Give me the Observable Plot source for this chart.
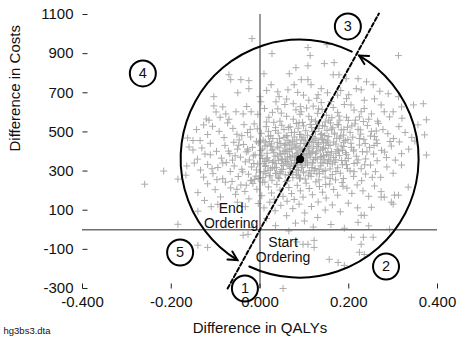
<!DOCTYPE html>
<html><head><meta charset="utf-8">
<script src="https://cdn.jsdelivr.net/npm/d3@7"></script>
<script src="https://cdn.jsdelivr.net/npm/@observablehq/plot@0.6"></script>
<style>html,body{margin:0;padding:0;background:#fff}svg{display:block}</style>
</head><body><div id="chart"></div>
<script>
// ---- data (QALY difference, cost difference) ----
const upperPoints = [[-0.018,977],[0.151,946],[0.108,931],[0.027,900],[0.113,890],[0.312,890],[0.145,849],[0.167,854],[0.108,838],[0.081,828],[0.009,797],[0.066,797],[-0.07,792],[0.165,792],[0.178,792],[0.194,772],[0.221,772],[-0.066,767],[-0.043,767],[0.093,767],[0.108,767],[-0.025,762],[0.24,756],[0.077,741],[0.115,741],[0.255,741],[0.025,741],[0.138,721],[0.04,705],[-0.025,721],[0.063,715],[0.217,721],[0.228,715],[0.043,680],[0.131,690],[0.289,695],[0.312,680],[-0.104,680],[0,680],[0.258,669],[0.002,654],[0.036,654],[0.152,700],[0.175,688],[0.195,670],[0.085,702],[0.11,662],[0.16,655],[0.2,690],[0.235,662],[-0.05,700],[0.015,712],[0.06,668],[0.128,672],[0.098,688],[0.182,712],[0.27,708],[-0.104,633],[-0.084,628],[-0.077,592],[-0.054,603],[-0.038,592],[-0.02,603],[0.075,644],[0.081,613],[0.093,603],[0.04,618],[0.273,638],[0.319,628],[0.346,638],[0.368,644],[0.28,603],[0.3,603],[0.292,577],[0.375,562],[0.251,592],[0.228,603],[0.205,638],[0.19,640],[0.165,625],[0.14,615],[0.12,632],[0.105,622],[0.06,580],[0.02,575],[-0.005,590],[-0.07,565],[-0.09,575],[-0.115,560],[0.11,580],[0.13,595],[0.15,585],[0.175,600],[0.195,575],[0.215,560],[0.245,565],[0.265,555],[0.32,570],[0.045,555],[0.075,565],[0.09,590],[0.01,620],[-0.03,630],[0.18,560],[0.235,620],[0.155,560],[0.125,555],[0.028,600],[0.056,640],[0.138,650],[0.212,612],[0.132,618],[0.091,629],[0.048,596],[0.178,581],[0.233,553],[0.015,551],[-0.121,566],[-0.099,602]];

const midPoints = [[-0.127,536],[-0.163,469],[-0.143,512],[-0.118,487],[-0.107,529],[-0.092,503],[-0.081,471],[-0.073,546],[-0.061,518],[-0.052,488],[-0.047,459],[-0.036,537],[-0.028,497],[-0.021,474],[-0.013,541],[-0.006,516],[0.003,493],[0.007,458],[0.014,527],[0.019,503],[0.024,481],[0.031,549],[0.035,522],[0.041,494],[0.044,466],[0.049,534],[0.054,512],[0.059,479],[0.063,457],[0.068,526],[0.071,497],[0.077,474],[0.082,543],[0.086,519],[0.089,487],[0.094,463],[0.098,531],[0.103,506],[0.107,483],[0.112,452],[0.116,523],[0.119,501],[0.124,468],[0.128,539],[0.133,517],[0.137,486],[0.141,461],[0.146,529],[0.151,508],[0.155,476],[0.159,546],[0.164,521],[0.168,494],[0.173,467],[0.177,536],[0.183,511],[0.188,484],[0.192,456],[0.197,524],[0.203,498],[0.209,473],[0.214,541],[0.221,513],[0.227,489],[0.234,462],[0.242,533],[0.251,503],[0.258,477],[0.267,544],[0.277,512],[0.288,491],[0.301,466],[0.313,527],[0.327,497],[0.342,472],[0.371,485],[0.356,536],[-0.151,456],[0.349,453],[0.262,459],[0.021,451],[0.096,549],[0.147,551],
[-0.131,418],[-0.124,387],[-0.16,423],[-0.151,408],[-0.112,442],[-0.098,401],[-0.087,366],[-0.079,431],[-0.068,389],[-0.059,447],[-0.051,412],[-0.044,371],[-0.037,436],[-0.031,398],[-0.024,357],[-0.017,421],[-0.011,383],[-0.004,444],[0.002,405],[0.006,364],[0.011,428],[0.016,391],[0.02,353],[0.026,439],[0.029,412],[0.034,376],[0.039,447],[0.043,419],[0.047,386],[0.051,359],[0.055,432],[0.058,401],[0.062,372],[0.067,445],[0.07,414],[0.073,381],[0.078,355],[0.081,428],[0.085,396],[0.087,367],[0.091,441],[0.095,409],[0.099,378],[0.102,352],[0.106,434],[0.109,403],[0.113,371],[0.117,446],[0.12,417],[0.125,389],[0.129,361],[0.132,437],[0.136,406],[0.139,374],[0.143,443],[0.147,415],[0.15,384],[0.154,358],[0.158,431],[0.161,399],[0.166,369],[0.171,438],[0.174,411],[0.179,379],[0.184,354],[0.189,426],[0.193,394],[0.199,365],[0.205,442],[0.211,408],[0.217,376],[0.224,433],[0.231,399],[0.238,362],[0.247,421],[0.256,387],[0.264,441],[0.274,406],[0.285,369],[0.296,428],[0.314,449],[0.319,389],[0.335,412],[0.375,382],[0.305,356],[-0.141,361],[0,450],[0.031,352],[0.066,399],[0.088,418],[0.115,392],[0.141,412],[0.004,381],[0.049,362],[0.077,438],[0.104,367],[0.128,425],[0.166,448],[0.186,405],[0.221,357],[-0.028,412],[-0.062,356],[0.012,449],[0.097,385],
[-0.165,326],[-0.167,279],[-0.127,269],[-0.217,300],[-0.185,259],[-0.148,341],[-0.134,305],[-0.118,334],[-0.106,287],[-0.095,318],[-0.084,261],[-0.076,343],[-0.067,298],[-0.058,326],[-0.049,272],[-0.041,309],[-0.033,347],[-0.026,284],[-0.019,321],[-0.012,258],[-0.005,336],[0.001,295],[0.007,267],[0.013,329],[0.018,303],[0.023,276],[0.028,344],[0.033,316],[0.038,289],[0.043,262],[0.048,338],[0.052,309],[0.057,281],[0.061,349],[0.066,322],[0.069,294],[0.074,266],[0.079,337],[0.083,307],[0.086,279],[0.091,346],[0.094,318],[0.098,291],[0.102,259],[0.107,331],[0.111,302],[0.115,273],[0.119,341],[0.124,313],[0.128,286],[0.133,255],[0.137,327],[0.142,298],[0.147,269],[0.152,339],[0.158,311],[0.163,282],[0.169,345],[0.175,317],[0.181,289],[0.188,262],[0.195,333],[0.203,301],[0.211,273],[0.219,342],[0.228,312],[0.238,285],[0.249,331],[0.26,297],[0.272,268],[0.286,321],[0.3,289],[0.319,331],[0.142,345],[0.062,251],[0.011,348],[-0.021,253],[0.091,264],[0.17,255],[0.047,297],[0.117,318],[0.085,333],[0.036,338],[-0.008,306]];

const corePoints = [[0.072,412],[0.058,438],[0.093,352],[0.121,446],[0.045,391],[0.108,428],[0.136,371],[0.083,459],[0.027,406],[0.154,433],[0.069,368],[0.112,389],[0.039,423],[0.146,357],[0.177,402],[0.061,481],[0.099,441],[0.125,503],[0.017,367],[0.188,447],[0.053,329],[0.087,303],[0.134,287],[0.024,311],[0.163,336],[0.109,279],[0.074,294],[0.041,268],[0.197,313],[0.121,358],[0.009,338],[0.158,262],[0.092,487],[0.138,468],[0.064,522],[0.182,479],[0.029,466],[0.113,538],[0.206,421],[0.224,466],[-0.015,378],[0.016,432],[0.052,402],[0.079,376],[0.101,412],[0.128,398],[0.143,379],[0.171,357],[0.195,384],[0.212,339],[0.057,347],[0.082,389],[0.118,343],[0.095,327],[0.068,313],[0.035,288],[-0.009,274],[0.212,297],[0.236,332],[0.264,353],[0.281,397],[0.293,451],[0.262,505],[-0.022,513],[-0.048,432],[-0.071,402],[-0.084,341],[-0.108,312],[-0.097,256],[-0.112,383],[-0.135,456],[0.229,251],[0.253,268]];

const densePoints = [[0.013,287],[0.071,341],[0.118,397],[0.152,455],[0.189,512],[0.224,577],[0.037,319],[0.086,372],[0.131,426],[0.168,489],[-0.004,262],[0.049,308],[0.095,366],[0.143,419],[0.179,468],[0.207,531],[0.021,276],[0.063,336],[0.104,389],[0.149,447],[-0.031,228],[0.009,297],[0.058,357],[0.092,403],[0.126,458],[0.161,514],[0.199,559],[-0.052,207],[-0.019,251],[0.028,318],[0.067,374],[0.111,424],[0.139,491],[0.174,538],[0.031,396],[0.076,327],[0.122,302],[0.158,378],[0.047,441],[0.014,362],[0.098,296],[0.137,341],[0.183,428],[0.064,279],[0.107,345],[0.042,355],[0.081,421],[0.119,477],[0.153,395],[0.027,253],[0.089,261],[0.133,309],[0.171,298],[0.056,389],[0.102,458],[0.006,412],[-0.014,339],[-0.039,296],[-0.063,247],[0.146,482],[0.078,498],[0.116,562],[0.054,472],[0.192,353],[0.211,402],[0.237,441],[0.198,462],[0.241,398],[0.257,431],[0.226,511],[0.249,479],[0.035,507],[0.019,478],[-0.008,452],[-0.041,481],[-0.027,402],[-0.056,378],[0.088,547],[0.162,573],[0.141,532],[0.073,452],[0.108,382],[0.066,433],[0.094,318],[0.125,368],[0.171,391],[0.045,288],[0.082,283],[0.012,323],[0.103,336],[0.147,304],[0.186,332],[0.061,409],[0.131,446],[0.024,427],[0.158,351],[0.115,289],[0.078,356],[0.039,377],[0.097,473]];

const lowerPoints = [[-0.26,233],[-0.14,190],[-0.118,235],[-0.101,205],[-0.089,168],[-0.078,243],[-0.066,214],[-0.055,181],[-0.043,229],[-0.034,196],[-0.025,158],[-0.016,237],[-0.007,207],[0.004,174],[0.011,244],[0.019,219],[0.026,188],[0.032,156],[0.038,232],[0.045,203],[0.052,171],[0.059,246],[0.065,216],[0.071,185],[0.077,155],[0.084,227],[0.091,199],[0.097,167],[0.104,238],[0.111,211],[0.118,179],[0.126,245],[0.134,221],[0.141,192],[0.149,162],[0.157,234],[0.166,206],[0.175,177],[0.185,241],[0.196,213],[0.207,186],[0.219,229],[0.232,199],[0.245,171],[0.258,224],[0.273,195],[0.273,167],[0.28,167],[0.303,177],[0.312,177],[0.334,218],[0.006,243],[0.148,231],[0.187,222],
[-0.14,95],[-0.11,118],[-0.125,150],[-0.095,130],[-0.051,141],[-0.033,118],[-0.004,134],[0.009,112],[0.022,141],[0.034,97],[0.047,125],[0.061,146],[0.074,108],[0.088,131],[0.101,86],[0.116,119],[0.131,142],[0.147,101],[0.163,127],[0.181,92],[0.199,136],[0.22,112],[0.251,115],[0.3,131],[0.296,141],[0.228,74],[0.235,74],[0.06,72],[0.13,63],[0.015,58],
[-0.185,28],[-0.038,-28],[-0.027,-23],[0.292,3],[0.221,38],[0.035,21],[0.08,34],[0.12,14],[0.16,27],[0.19,8],[0.065,-6],[0.245,20],[-0.015,12],[0.1,45],
[-0.14,-79],[-0.118,-90],[0.052,-300],[0.122,-54],[0.122,-90],[0.097,-74],[0.108,-74],[0.156,-151],[0.176,-167],[0.19,-182],[0.206,-38],[0.233,-38],[0.228,-74],[0.255,-38],[0.224,-115],[0.235,-126],[0.083,-62]];

const meanPoint = [0.0904, 361];             // mean QALY / cost difference
const icerLine = [[-0.073, -300], [0.268, 1105]];  // ray through origin and mean

const xDomain = [-0.4, 0.4];
const yDomain = [-300, 1100];
const xTicks = [-0.4, -0.2, 0, 0.2, 0.4];
const xTickLabels = ["-0.400", "-0.200", "0.000", "0.200", "0.400"];
const yTicks = [-300, -100, 100, 300, 500, 700, 900, 1100];
const yTickLabels = ["-300", "-100", "100", "300", "500", "700", "900", "1100"];

const quadrantLabels = ["1", "2", "3", "4", "5"];
const quadrantQ = [-0.034, 0.284, 0.198, -0.264, -0.18];
const quadrantC = [-300, -188, 1039, 799, -116];

const orderingNotes = ["End\nOrdering", "Start\nOrdering"];
const orderingQ = [-0.065, 0.052];
const orderingC = [73, -101];

const orderingArcs = [{from: 115, to: -60}, {from: -64, to: -238.5}]; // screen angles (deg) around the mean

// ---- symbols ----
const plusSymbol = {draw(ctx, size) { const h = Math.sqrt(size / Math.PI); ctx.moveTo(-h, 0); ctx.lineTo(h, 0); ctx.moveTo(0, -h); ctx.lineTo(0, h); }};
const tickRightSymbol = {draw(ctx, size) { const h = Math.sqrt(size / Math.PI); ctx.moveTo(0, 0); ctx.lineTo(h, 0); }};
const tickUpSymbol = {draw(ctx, size) { const h = Math.sqrt(size / Math.PI); ctx.moveTo(0, 0); ctx.lineTo(0, -h); }};

const allPoints = [...upperPoints, ...midPoints, ...corePoints, ...densePoints, ...lowerPoints];
const idx = quadrantLabels.map((d, i) => i);
const oidx = orderingNotes.map((d, i) => i);

const font = "'Liberation Sans', Arial, Helvetica, sans-serif";

const chart = Plot.plot({
  width: 459, height: 343,
  marginLeft: 82, marginRight: 22, marginTop: 14, marginBottom: 55,
  x: {domain: xDomain, axis: null},
  y: {domain: yDomain, axis: null},
  style: {fontFamily: font, background: "#fff", color: "#111", overflow: "visible"},
  marks: [
    Plot.dot(allPoints, {x: d => d[0], y: d => d[1], symbol: plusSymbol, r: 3.5, stroke: "#ababab", fill: "none", strokeWidth: 1}),
    Plot.ruleY([0], {stroke: "#6e6e6e", strokeWidth: 1.4}),
    Plot.ruleX([0], {stroke: "#6e6e6e", strokeWidth: 1.4}),
    Plot.line(icerLine, {x: d => d[0], y: d => d[1], stroke: "#000", strokeWidth: 2, strokeDasharray: "4,2.5"}),
    Plot.dot([meanPoint], {x: d => d[0], y: d => d[1], r: 4, fill: "#000"}),
    // axes (Stata style, inward ticks, no axis lines)
    Plot.dot(yTicks, {x: () => xDomain[0], y: d => d, symbol: tickRightSymbol, r: 5, stroke: "#222", fill: "none", strokeWidth: 1}),
    Plot.dot(xTicks, {x: d => d, y: () => yDomain[0], symbol: tickUpSymbol, r: 5, stroke: "#222", fill: "none", strokeWidth: 1}),
    Plot.text(yTicks, {x: () => xDomain[0], y: d => d, text: (d, i) => yTickLabels[i], textAnchor: "end", dx: -9, fontSize: 15, fill: "#111"}),
    Plot.text(xTicks, {x: d => d, y: () => yDomain[0], text: (d, i) => xTickLabels[i], dy: 14, fontSize: 15, fill: "#111"}),
    Plot.text(["Difference in QALYs"], {frameAnchor: "bottom", dy: 44, text: d => d, fontSize: 15, fill: "#111"}),
    Plot.text(["Difference in Costs"], {frameAnchor: "left", rotate: -90, dx: -67, text: d => d, fontSize: 15, fill: "#111"}),
    Plot.text(["hg3bs3.dta"], {frameAnchor: "bottom-left", dx: -79, dy: 45, textAnchor: "start", text: d => d, fontSize: 9.5, fill: "#111"}),
    // annotations
    Plot.text(oidx, {x: i => orderingQ[i], y: i => orderingC[i], text: i => orderingNotes[i], fontSize: 14, lineHeight: 1.12, fill: "#111"}),
    Plot.dot(idx, {x: i => quadrantQ[i], y: i => quadrantC[i], r: 13, stroke: "#000", strokeWidth: 2, fill: "none"}),
    Plot.text(idx, {x: i => quadrantQ[i], y: i => quadrantC[i], text: i => quadrantLabels[i], fontSize: 14.5, fill: "#111"})
  ]
});

// ordering arcs with arrowheads around the mean, positioned with the plot's scales
const xs = chart.scale("x"), ys = chart.scale("y");
const fx = xs.apply ? v => xs.apply(v) : d3.scaleLinear(xs.domain, xs.range);
const fy = ys.apply ? v => ys.apply(v) : d3.scaleLinear(ys.domain, ys.range);
const cx = fx(meanPoint[0]), cy = fy(meanPoint[1]);
const R = 119;
const g = d3.select(chart).append("g").attr("fill", "none").attr("stroke", "#000").attr("stroke-width", 2).attr("stroke-linecap", "round");
for (const a of orderingArcs) {
  const r0 = a.from * Math.PI / 180, r1 = a.to * Math.PI / 180;
  const x0 = cx + R * Math.cos(r0), y0 = cy + R * Math.sin(r0);
  const x1 = cx + R * Math.cos(r1), y1 = cy + R * Math.sin(r1);
  const large = Math.abs(a.from - a.to) > 180 ? 1 : 0;
  g.append("path").attr("d", `M${x0},${y0}A${R},${R} 0 ${large} 0 ${x1},${y1}`);
  const tx = Math.sin(r1), ty = -Math.cos(r1);
  const back = Math.atan2(-ty, -tx), h = 28 * Math.PI / 180, L = 10;
  g.append("path").attr("d", `M${x1 + L * Math.cos(back + h)},${y1 + L * Math.sin(back + h)}L${x1},${y1}L${x1 + L * Math.cos(back - h)},${y1 + L * Math.sin(back - h)}`);
}

document.getElementById("chart").appendChild(chart);
</script></body></html>
